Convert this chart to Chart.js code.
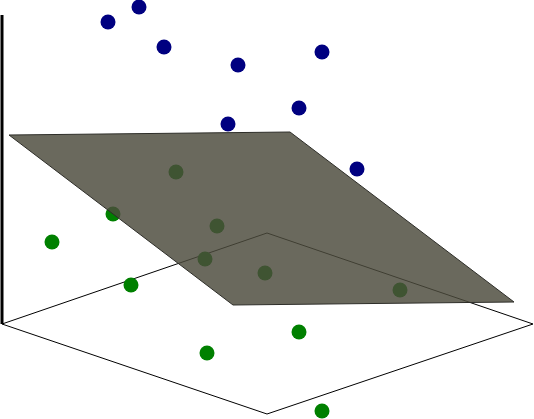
<!DOCTYPE html>
<html>
<head>
<meta charset="utf-8">
<script src="https://cdn.jsdelivr.net/npm/chart.js@4/dist/chart.umd.min.js"></script>
<style>
  html, body { margin: 0; padding: 0; background: #ffffff; }
  #wrap { width: 534px; height: 419px; }
</style>
</head>
<body>
<div id="wrap"><canvas id="c" width="534" height="419"></canvas></div>
<script>
// Projected coordinates (x to the right, y downward)
const floorX = [2, 267, 533, 267, 2];
const floorY = [324, 233, 324, 414, 324];

const axisX = [2, 2];
const axisY = [15, 324];

const planeX = [9, 290, 514, 233, 9];
const planeY = [135, 132, 302, 305, 135];

const aboveX = [108, 139, 164, 238, 228, 322, 299, 357];
const aboveY = [22, 7, 47, 65, 124, 52, 108, 169];

const belowX = [52, 113, 131, 207, 299, 322, 176, 217, 205, 265, 400];
const belowY = [242, 214, 285, 353, 332, 411, 172, 226, 259, 273, 290];

const pts = (xs, ys) => xs.map((x, i) => ({ x: x, y: ys[i] }));

new Chart(document.getElementById('c'), {
  type: 'scatter',
  data: {
    datasets: [
      {
        label: 'above',
        data: pts(aboveX, aboveY),
        backgroundColor: '#000080',
        borderColor: '#000080',
        pointRadius: 7.5,
        pointBorderWidth: 0,
        order: 0,
        clip: false
      },
      {
        label: 'plane',
        data: pts(planeX, planeY),
        showLine: true,
        fill: 'shape',
        backgroundColor: 'rgba(76,75,60,0.83)',
        borderColor: 'rgba(45,45,40,1)',
        borderWidth: 1,
        pointRadius: 0,
        tension: 0,
        order: 1,
        clip: false
      },
      {
        label: 'below',
        data: pts(belowX, belowY),
        backgroundColor: '#008000',
        borderColor: '#008000',
        pointRadius: 7.5,
        pointBorderWidth: 0,
        order: 2,
        clip: false
      },
      {
        label: 'floor',
        data: pts(floorX, floorY),
        showLine: true,
        fill: false,
        borderColor: '#000000',
        borderWidth: 1,
        pointRadius: 0,
        tension: 0,
        order: 3,
        clip: false
      },
      {
        label: 'axis',
        data: pts(axisX, axisY),
        showLine: true,
        fill: false,
        borderColor: '#000000',
        borderWidth: 3,
        pointRadius: 0,
        order: 3,
        clip: false
      }
    ]
  },
  options: {
    responsive: false,
    animation: false,
    events: [],
    layout: { padding: 0, autoPadding: false },
    plugins: {
      legend: { display: false },
      tooltip: { enabled: false },
      title: { display: false }
    },
    scales: {
      x: { type: 'linear', min: 0, max: 534, display: false },
      y: { type: 'linear', min: 0, max: 419, reverse: true, display: false }
    }
  }
});
</script>
</body>
</html>
